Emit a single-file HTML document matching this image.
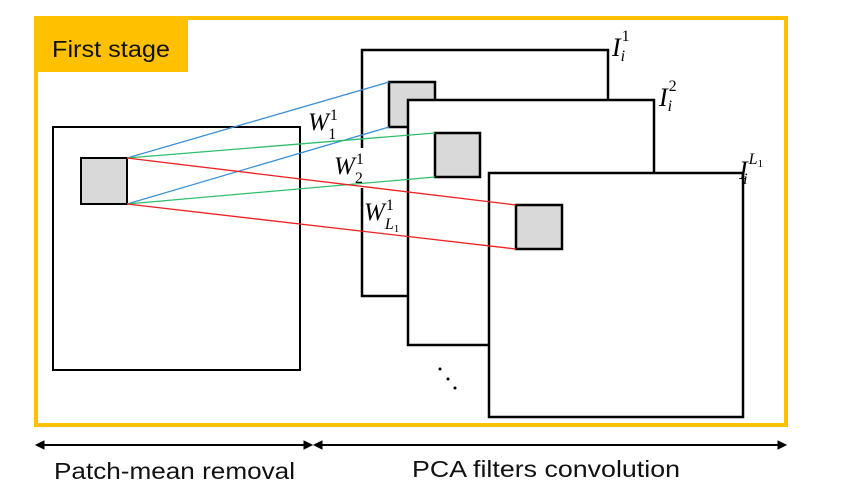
<!DOCTYPE html>
<html><head><style>body{margin:0;background:#fff}</style></head><body>
<svg width="865" height="492" xmlns="http://www.w3.org/2000/svg" font-family="Liberation Sans, sans-serif">
<rect x="0" y="0" width="865" height="492" fill="#fff"/>
<rect x="36" y="18" width="750" height="407" fill="none" stroke="#ffc000" stroke-width="4"/>
<rect x="36" y="18" width="152" height="54" fill="#ffc000"/>
<text x="52" y="57" font-size="23" fill="#111" textLength="118" lengthAdjust="spacingAndGlyphs">First stage</text>
<rect x="53" y="127" width="247" height="243" fill="none" stroke="#000" stroke-width="2"/>
<rect x="81" y="158" width="46" height="46" fill="#d9d9d9" stroke="#000" stroke-width="2"/>
<g stroke="#000" stroke-width="2.5">
<rect x="362" y="50" width="246" height="246" fill="#fff"/>
<rect x="389" y="82" width="46" height="45" fill="#d9d9d9"/>
<rect x="408" y="100" width="246" height="245" fill="#fff"/>
<rect x="435" y="133" width="45" height="44" fill="#d9d9d9"/>
<rect x="489" y="173" width="254" height="244" fill="#fff"/>
<rect x="516" y="205" width="46" height="44" fill="#d9d9d9"/>
</g>
<rect x="359" y="148" width="7" height="40" fill="#fff"/>
<g stroke-width="1.3" fill="none">
<line x1="127" y1="158" x2="389" y2="82" stroke="#3a8fd6"/>
<line x1="127" y1="204" x2="389" y2="127" stroke="#3a8fd6"/>
<line x1="127" y1="158" x2="435" y2="133" stroke="#2fbf6b"/>
<line x1="127" y1="204" x2="435" y2="177" stroke="#2fbf6b"/>
<line x1="127" y1="158" x2="516" y2="205" stroke="#ee2020"/>
<line x1="127" y1="204" x2="516" y2="249" stroke="#ee2020"/>
</g>
<g font-family="Liberation Serif, serif" font-style="italic" fill="#000">
<text x="308" y="130" font-size="25">W<tspan font-size="16" dx="1" dy="-10" font-style="normal">1</tspan><tspan font-size="16" dx="-9" dy="19" font-style="normal">1</tspan></text>
<text x="334" y="174" font-size="25">W<tspan font-size="16" dx="1" dy="-10" font-style="normal">1</tspan><tspan font-size="16" dx="-9" dy="19" font-style="normal">2</tspan></text>
<text x="364" y="220" font-size="25">W<tspan font-size="16" dx="1" dy="-10" font-style="normal">1</tspan><tspan font-size="16" dx="-9" dy="19">L<tspan font-size="11" dy="3" font-style="normal">1</tspan></tspan></text>
<text x="612" y="56" font-size="26">I<tspan font-size="16" dx="1" dy="-15" font-style="normal">1</tspan><tspan font-size="16" dx="-9" dy="20">i</tspan></text>
<text x="659" y="106" font-size="26">I<tspan font-size="16" dx="1" dy="-15" font-style="normal">2</tspan><tspan font-size="16" dx="-9" dy="20">i</tspan></text>
<text x="739" y="179" font-size="26">I<tspan font-size="16" dx="1" dy="-15">L<tspan font-size="11" dy="3" font-style="normal">1</tspan></tspan><tspan font-size="16" dx="-20" dy="17">i</tspan></text>
</g>
<g fill="#000"><circle cx="440" cy="369" r="1.5"/><circle cx="448" cy="379" r="1.5"/><circle cx="455" cy="388" r="1.5"/></g>
<g stroke="#000" stroke-width="2" fill="#000">
<line x1="40" y1="445" x2="308" y2="445"/>
<line x1="318" y1="445" x2="782" y2="445"/>
<path d="M36 445 l8 -4 v8 z M312 445 l-8 -4 v8 z M314 445 l8 -4 v8 z M786 445 l-8 -4 v8 z" stroke-width="1"/>
</g>
<text x="54" y="479" font-size="23" fill="#111" textLength="241" lengthAdjust="spacingAndGlyphs">Patch-mean removal</text>
<text x="412" y="477" font-size="23" fill="#111" textLength="268" lengthAdjust="spacingAndGlyphs">PCA  filters convolution</text>
</svg>
</body></html>
